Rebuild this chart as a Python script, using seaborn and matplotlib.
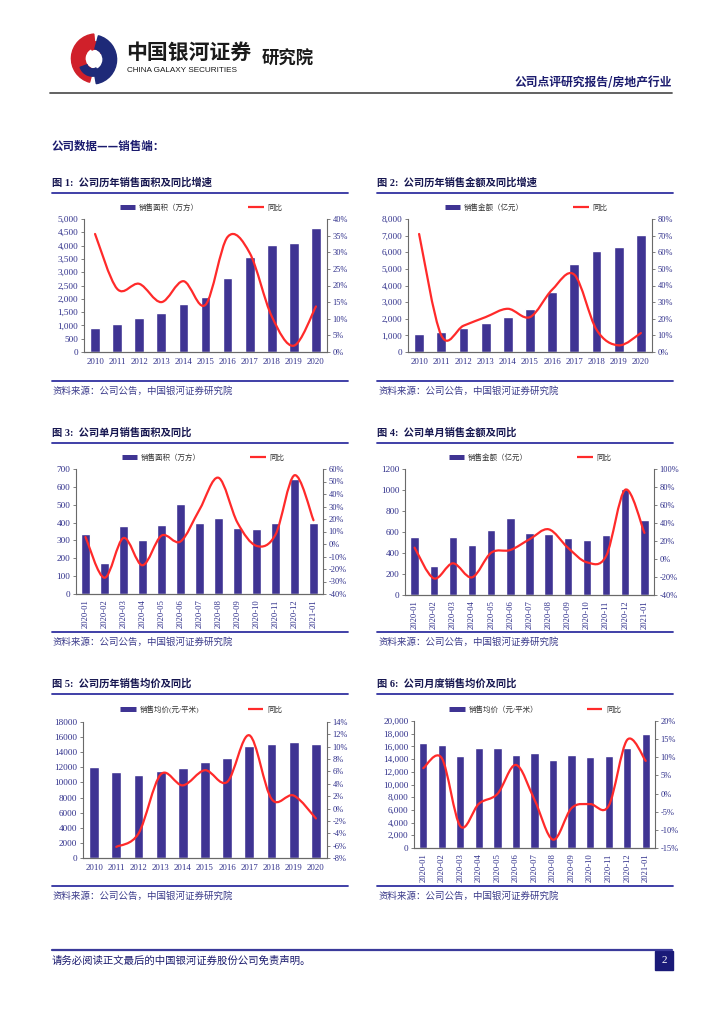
import numpy as np
import matplotlib
matplotlib.use("Agg")
import matplotlib.pyplot as plt
import seaborn as sns
from matplotlib.path import Path
from matplotlib.patches import PathPatch, Rectangle, Wedge
from matplotlib.lines import Line2D

# ---- data ----
years = ['2010', '2011', '2012', '2013', '2014', '2015', '2016', '2017', '2018', '2019', '2020']
months = ['2020-01', '2020-02', '2020-03', '2020-04', '2020-05', '2020-06', '2020-07',
          '2020-08', '2020-09', '2020-10', '2020-11', '2020-12', '2021-01']

area_year = [900, 1070, 1280, 1480, 1800, 2070, 2770, 3590, 4020, 4100, 4650]
area_year_yoy = [35.5, 19.0, 20.5, 15.0, 21.3, 14.2, 34.6, 29.8, 10.7, 1.9, 13.7]

amount_year = [1100, 1200, 1420, 1720, 2120, 2600, 3630, 5310, 6070, 6290, 7050]
amount_year_yoy = [71.0, 10.0, 15.8, 21.0, 26.0, 21.0, 37.5, 46.5, 13.4, 4.0, 11.4]

area_month = [335, 174, 380, 305, 389, 502, 397, 424, 371, 366, 397, 644, 399]
area_month_yoy = [5.6, -27.0, 4.8, -17.0, 6.7, 2.0, 27.5, 53.0, 17.0, -1.5, 7.5, 55.0, 19.0]

amount_month = [549, 279, 549, 476, 616, 733, 590, 581, 543, 521, 575, 1013, 711]
amount_month_yoy = [12.6, -21.5, -4.8, -20.4, 7.0, 10.0, 21.9, 33.0, 12.6, -3.7, 3.3, 77.0, 29.0]

price_year = [12090, 11390, 10950, 11520, 11920, 12670, 13240, 14790, 15100, 15400, 15140]
price_year_yoy = [np.nan, -6.2, -4.05, 5.5, 3.75, 6.2, 4.3, 11.85, 1.55, 2.1, -1.6]

price_month = [16490, 16180, 14500, 15760, 15810, 14660, 14920, 13870, 14710, 14290, 14550, 15810, 17960]
price_month_yoy = [7.0, 9.75, -9.0, -2.8, -0.1, 7.9, -1.7, -12.7, -4.0, -2.9, -3.4, 14.8, 9.0]

BAR = '#3F3493'
RED = '#FF2A2A'
NAVY = '#1B1B6E'
TICK = '#2E2E8A'
RULE = '#3030A0'
CJK = ['Noto Sans CJK SC', 'Liberation Serif', 'DejaVu Sans']

sns.set_theme(style='white')
plt.rcParams['font.family'] = ['Liberation Serif', 'Noto Sans CJK SC', 'DejaVu Sans']

W, H = 724, 1024
fig = plt.figure(figsize=(W / 100, H / 100), dpi=100)


def fx(x):
    return x / W


def fy(y):
    return 1 - y / H


def hline(x0, x1, y, color, lw):
    fig.add_artist(Line2D([fx(x0), fx(x1)], [fy(y), fy(y)], color=color, lw=lw))


def smooth_path(xs, ys):
    # excel style smoothed line: bezier segments through the points
    pts = np.column_stack([xs, ys]).astype(float)
    n = len(pts)
    verts = [pts[0]]
    codes = [Path.MOVETO]
    for i in range(n - 1):
        p0 = pts[max(i - 1, 0)]
        p1 = pts[i]
        p2 = pts[i + 1]
        p3 = pts[min(i + 2, n - 1)]
        verts += [p1 + (p2 - p0) / 6, p2 - (p3 - p1) / 6, p2]
        codes += [Path.CURVE4] * 3
    return Path(verts, codes)


def panel(box, cats, bars, yoy, bar_label, llim, lstep, rlim, rstep, comma, rotate, leg_xy):
    l, t, r, b = box
    ax = fig.add_axes([fx(l), fy(b), (r - l) / W, (b - t) / H])
    sns.barplot(x=cats, y=bars, color=BAR, saturation=1, width=0.44, ax=ax)
    ax.set_ylim(*llim)
    lt = np.arange(llim[0], llim[1] + 1, lstep)
    ax.set_yticks(lt)
    fmt = '{:,.0f}' if comma else '{:.0f}'
    ax.set_yticklabels([fmt.format(v) for v in lt])
    ax.set_xlabel('')
    ax.set_ylabel('')

    ax2 = ax.twinx()
    ax2.set_ylim(*rlim)
    rt = np.arange(rlim[0], rlim[1] + 0.01, rstep)
    ax2.set_yticks(rt)
    ax2.set_yticklabels(['{:.0f}%'.format(v) for v in rt])
    x = np.arange(len(cats))
    y = np.array(yoy, dtype=float)
    ok = ~np.isnan(y)
    ax2.add_patch(PathPatch(smooth_path(x[ok], y[ok]), fill=False, ec=RED, lw=1.6,
                            capstyle='round', joinstyle='round'))

    for a in (ax, ax2):
        a.spines['top'].set_visible(False)
        for s in ('left', 'right', 'bottom'):
            a.spines[s].set_color('#6a6a6a')
            a.spines[s].set_linewidth(0.8)
        a.tick_params(length=2, width=0.6, color='#6a6a6a', labelcolor=TICK, pad=2)
    ax.spines['right'].set_visible(False)
    ax2.spines['left'].set_visible(False)
    ax.tick_params(axis='y', labelsize=6.6)
    ax2.tick_params(axis='y', labelsize=6)
    if rotate:
        ax.tick_params(axis='x', labelsize=6.2, labelrotation=90)
    else:
        ax.tick_params(axis='x', labelsize=6.3)

    handles = [Line2D([], [], color=BAR, lw=3.6, solid_capstyle='butt'),
               Line2D([], [], color=RED, lw=1.6, solid_capstyle='butt')]
    fig.legend(handles, [bar_label, '同比'], loc='center',
               bbox_to_anchor=(fx(leg_xy[0]), fy(leg_xy[1])), ncol=2, frameon=False,
               fontsize=5.4, handlelength=2.1, handletextpad=0.5, columnspacing=6.5,
               labelcolor='#333333')
    return ax


def frame(x0, title, ty, src_y):
    fig.text(fx(x0), fy(ty), title, ha='left', va='center', fontsize=7.4,
             fontweight='bold', color='#161650')
    hline(x0, x0 + 296, ty + 10, RULE, 1.3)
    hline(x0, x0 + 296, src_y - 10, RULE, 1.3)
    fig.text(fx(x0 + 1), fy(src_y), '资料来源：公司公告，中国银河证券研究院', ha='left',
             va='center', fontsize=6.8, style='italic', color='#3A3A8A', family=CJK)


# ---- header ----
lax = fig.add_axes([fx(66), fy(86), 56 / W, 54 / H])
lax.set_xlim(-1.1, 1.1)
lax.set_ylim(-1.1, 1.1)
lax.set_aspect('equal')
lax.axis('off')
lax.add_patch(Wedge((0.08, 0.02), 1.0, 95, 255, width=0.55, color='#D0202A'))
lax.add_patch(Wedge((0.05, 0.15), 0.55, 20, 120, width=0.3, color='#D0202A'))
lax.add_patch(Wedge((-0.08, -0.02), 1.0, -80, 75, width=0.55, color='#1E2A78'))
lax.add_patch(Wedge((-0.05, -0.15), 0.55, 200, 300, width=0.3, color='#1E2A78'))

fig.text(fx(126), fy(52), '中国银河证券', ha='left', va='center', fontsize=15,
         fontweight='bold', family=['Noto Sans CJK SC'], color='#1a1a1a')
fig.text(fx(127), fy(71), 'CHINA GALAXY SECURITIES', ha='left', va='center', fontsize=5.9,
         family=['Liberation Sans'], color='#1a1a1a')
fig.text(fx(262), fy(59), '研究院', ha='left', va='center', fontsize=12.5,
         fontweight='bold', family=['Noto Sans CJK SC'], color='#1a1a1a')
fig.text(fx(672), fy(83), '公司点评研究报告/房地产行业', ha='right', va='center',
         fontsize=8.5, fontweight='bold', color=NAVY, family=CJK)
hline(50, 672, 93, '#555555', 1.3)
fig.text(fx(52), fy(146), '公司数据——销售端：', ha='left', va='center', fontsize=8.3,
         fontweight='bold', color=NAVY, family=CJK)

# ---- six panels ----
frame(52, '图 1:  公司历年销售面积及同比增速', 183, 391)
panel((84, 219, 327, 352), years, area_year, area_year_yoy, '销售面积（万方）',
      (0, 5000), 500, (0, 40), 5, True, False, (201, 207))

frame(377, '图 2:  公司历年销售金额及同比增速', 183, 391)
panel((408, 219, 652, 352), years, amount_year, amount_year_yoy, '销售金额（亿元）',
      (0, 8000), 1000, (0, 80), 10, True, False, (526, 207))

frame(52, '图 3:  公司单月销售面积及同比', 433, 642)
panel((76, 469, 323, 594), months, area_month, area_month_yoy, '销售面积（万方）',
      (0, 700), 100, (-40, 60), 10, False, True, (203, 457))

frame(377, '图 4:  公司单月销售金额及同比', 433, 642)
panel((405, 469, 654, 595), months, amount_month, amount_month_yoy, '销售金额（亿元）',
      (0, 1200), 200, (-40, 100), 20, False, True, (530, 457))

frame(52, '图 5:  公司历年销售均价及同比', 684, 896)
panel((83, 722, 327, 858), years, price_year, price_year_yoy, '销售均价(元/平米)',
      (0, 18000), 2000, (-8, 14), 2, False, False, (201, 709))

frame(377, '图 6:  公司月度销售均价及同比', 684, 896)
panel((414, 721, 655, 848), months, price_month, price_month_yoy, '销售均价（元/平米）',
      (0, 20000), 2000, (-15, 20), 5, True, True, (535, 709))

# ---- footer ----
hline(52, 672, 950, '#3A3A9A', 1.6)
fig.text(fx(52), fy(961), '请务必阅读正文最后的中国银河证券股份公司免责声明。', ha='left',
         va='center', fontsize=7.5, color=NAVY, family=CJK)
fig.add_artist(Rectangle((fx(655), fy(970)), 18 / W, 19 / H, transform=fig.transFigure,
                         color='#1A1A78'))
fig.text(fx(664), fy(960.5), '2', ha='center', va='center', fontsize=8, color='white')

fig.savefig('out.png', dpi=100)
